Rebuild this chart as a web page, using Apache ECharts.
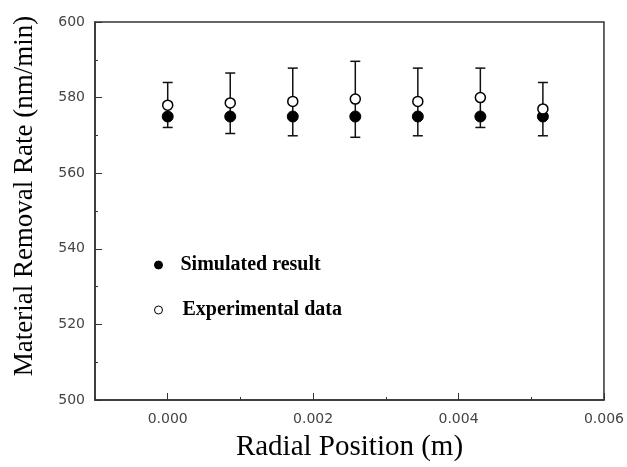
<!DOCTYPE html>
<html>
<head>
<meta charset="utf-8">
<script src="https://cdn.jsdelivr.net/npm/echarts@6/dist/echarts.min.js"></script>
<style>html,body{margin:0;padding:0;background:#fff}#chart{width:627px;height:467px}</style>
</head>
<body>
<div id="chart"></div>
<script>
var xPos = [0, 0.00086, 0.00172, 0.00258, 0.00344, 0.0043, 0.00516];
var simulated = [575, 575, 575, 575, 575, 575, 575];
var experimental = [578.0, 578.6, 579.0, 579.6, 579.0, 580.0, 577.0];
var errUpper = [584.0, 586.5, 587.8, 589.6, 587.8, 587.8, 584.0];
var errLower = [572.1, 570.5, 569.9, 569.5, 569.9, 572.1, 569.9];
var xMajorTicks = [0, 0.002, 0.004, 0.006];
var yMajorTicks = [500, 520, 540, 560, 580, 600];

var chart = echarts.init(document.getElementById('chart'));
var simData = xPos.map(function (x, i) { return [x, simulated[i]]; });
var expData = xPos.map(function (x, i) { return [x, experimental[i]]; });
var errData = xPos.map(function (x, i) { return [x, errLower[i], errUpper[i]]; });

var tickFont = { fontFamily: 'DejaVu Sans', fontSize: 14, color: '#444' };
var serif = 'Liberation Serif';

chart.setOption({
  animation: false,
  backgroundColor: '#fff',
  grid: { left: 95, right: 21, top: 22, bottom: 64, show: true, borderColor: '#333', borderWidth: 1.5, backgroundColor: 'transparent' },
  legend: {
    orient: 'vertical', left: 149, top: 250, itemGap: 25, itemWidth: 8, itemHeight: 8,
    textStyle: { fontFamily: serif, fontWeight: 'bold', fontSize: 20, color: '#000', padding: [0, 0, 0, 13] },
    data: [
      { name: 'Simulated result', icon: 'circle', itemStyle: { color: '#000', borderColor: '#000', borderWidth: 1 } },
      { name: 'Experimental data', icon: 'circle', itemStyle: { color: '#fff', borderColor: '#000', borderWidth: 1 },
        textStyle: { padding: [0, 0, 0, 15] } }
    ]
  },
  xAxis: [{
    type: 'value', min: -0.001, max: 0.006, interval: 0.001,
    name: 'Radial Position (m)', nameLocation: 'middle', nameGap: 33,
    nameTextStyle: { fontFamily: serif, fontSize: 29, color: '#000' },
    axisLine: { show: true, onZero: false, lineStyle: { color: '#333', width: 1.5 } },
    axisTick: { show: true, inside: true, length: 3, lineStyle: { color: '#333', width: 1 } },
    axisLabel: Object.assign({ margin: 12, customValues: xMajorTicks, formatter: function (v) { return v.toFixed(3); } }, tickFont),
    splitLine: { show: false }
  }, {
    type: 'value', min: -0.001, max: 0.006, interval: 0.001, position: 'bottom',
    axisLine: { show: false, onZero: false }, axisLabel: { show: false }, splitLine: { show: false },
    axisTick: { show: true, inside: true, length: 7, customValues: xMajorTicks, lineStyle: { color: '#333', width: 1 } }
  }],
  yAxis: [{
    type: 'value', min: 500, max: 600, interval: 10,
    name: 'Material Removal Rate (nm/min)', nameLocation: 'middle', nameGap: 57,
    nameTextStyle: { fontFamily: serif, fontSize: 27, color: '#000', padding: [0, 0, 0, 30] },
    axisLine: { show: true, onZero: false, lineStyle: { color: '#333', width: 1.5 } },
    axisTick: { show: true, inside: true, length: 3, lineStyle: { color: '#333', width: 1 } },
    axisLabel: Object.assign({ margin: 10, customValues: yMajorTicks }, tickFont),
    splitLine: { show: false }
  }, {
    type: 'value', min: 500, max: 600, interval: 10, position: 'left',
    axisLine: { show: false, onZero: false }, axisLabel: { show: false }, splitLine: { show: false },
    axisTick: { show: true, inside: true, length: 7, customValues: yMajorTicks, lineStyle: { color: '#333', width: 1 } }
  }],
  series: [{
    type: 'custom', name: 'err', silent: true, z: 1,
    data: errData,
    renderItem: function (params, api) {
      var x = api.value(0);
      var lo = api.coord([x, api.value(1)]);
      var hi = api.coord([x, api.value(2)]);
      var w = 5;
      var st = { stroke: '#111', lineWidth: 1.5 };
      return { type: 'group', children: [
        { type: 'line', shape: { x1: lo[0], y1: lo[1], x2: hi[0], y2: hi[1] }, style: st },
        { type: 'line', shape: { x1: lo[0] - w, y1: lo[1], x2: lo[0] + w, y2: lo[1] }, style: st },
        { type: 'line', shape: { x1: hi[0] - w, y1: hi[1], x2: hi[0] + w, y2: hi[1] }, style: st }
      ] };
    }
  }, {
    type: 'scatter', name: 'Simulated result', data: simData, symbol: 'circle', symbolSize: 11, z: 3,
    itemStyle: { color: '#000', borderColor: '#000', borderWidth: 1, opacity: 1 }
  }, {
    type: 'scatter', name: 'Experimental data', data: expData, symbol: 'circle', symbolSize: 10, z: 4,
    itemStyle: { color: '#fff', borderColor: '#000', borderWidth: 1.5, opacity: 1 }
  }]
});
</script>
</body>
</html>
